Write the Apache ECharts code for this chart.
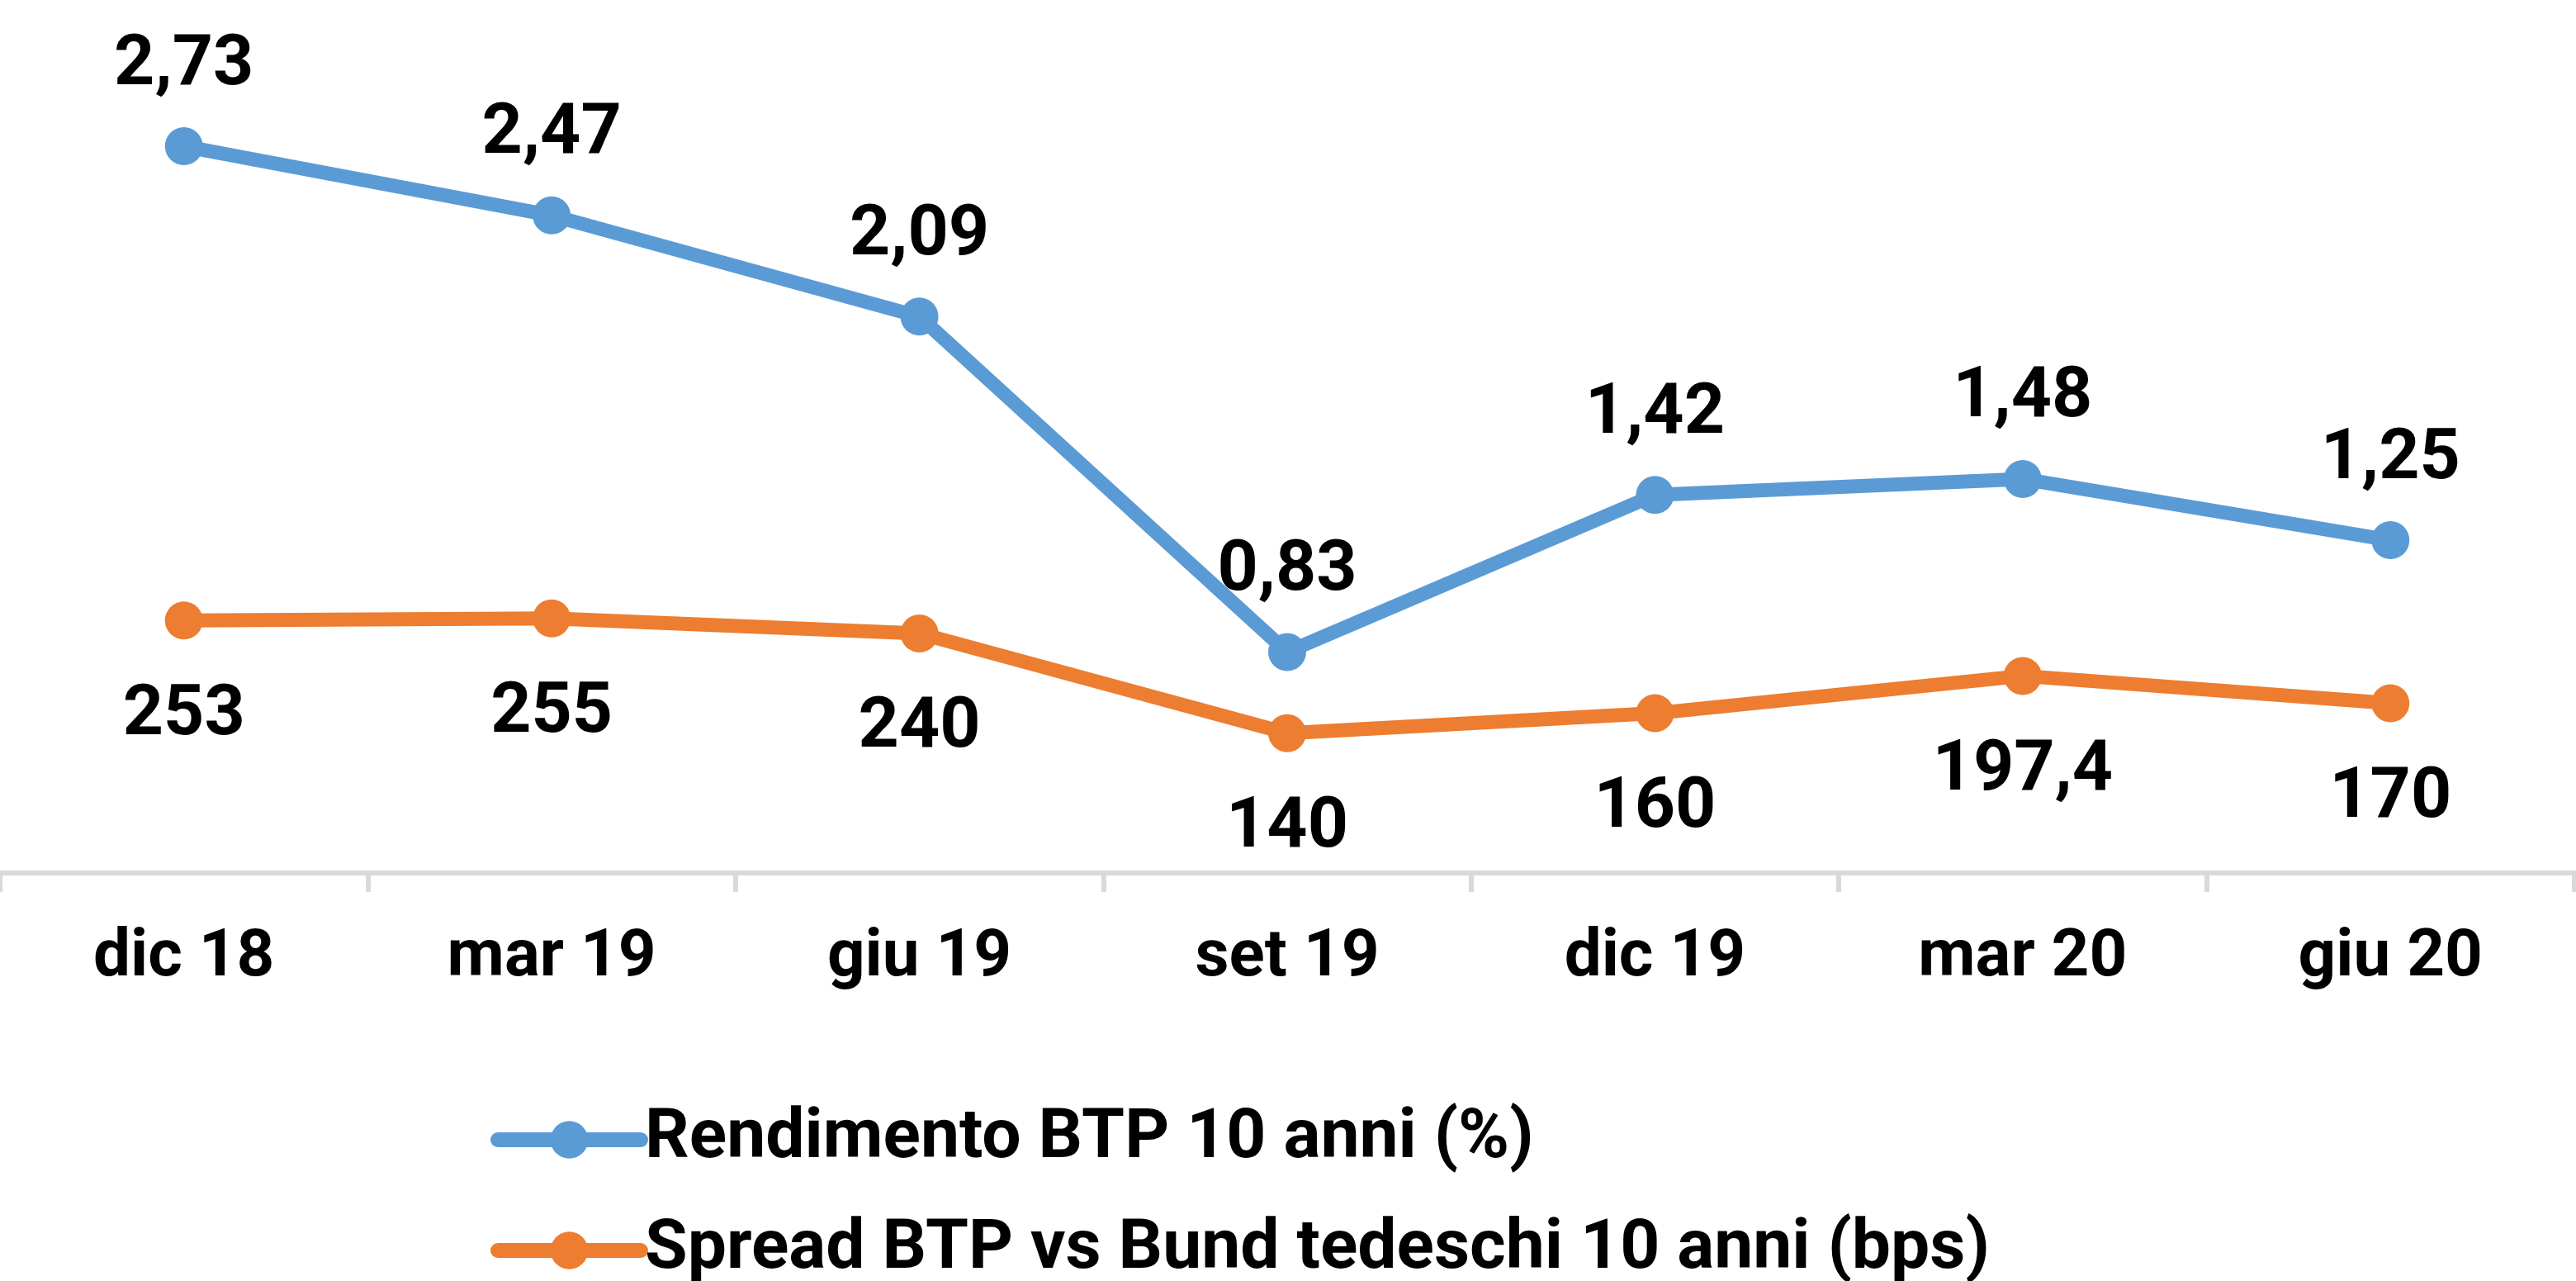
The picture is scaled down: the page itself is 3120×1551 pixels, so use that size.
<!DOCTYPE html>
<html>
<head>
<meta charset="utf-8">
<script src="https://cdn.jsdelivr.net/npm/echarts@6/dist/echarts.min.js"></script>
<style>
  html, body { margin: 0; padding: 0; background: #fff; }
  #chart { width: 3120px; height: 1551px; }
</style>
</head>
<body>
<div id="chart"></div>
<script>
// categorie (trimestri)
var categories = ["dic 18", "mar 19", "giu 19", "set 19", "dic 19", "mar 20", "giu 20"];
// rendimento BTP 10 anni (%)
var rendimento = [2.73, 2.47, 2.09, 0.83, 1.42, 1.48, 1.25];
// spread BTP vs Bund (bps)
var spread = [253, 255, 240, 140, 160, 197.4, 170];
var seriesNames = ["Rendimento BTP 10 anni (%)", "Spread BTP vs Bund tedeschi 10 anni (bps)"];

var font = "Roboto";
var blue = "#5B9BD5";
var orange = "#ED7D31";

// numeri con la virgola
function fmt(p) {
    return String(p.value).replace(".", ",");
}

// una legenda per riga, così non va a capo
function legendRow(name, top) {
    return {
        left: 594,
        top: top,
        padding: 0,
        itemWidth: 173,
        itemHeight: 57,
        lineStyle: { width: 18, cap: "round" },
        textStyle: {
            fontFamily: font,
            fontWeight: "bold",
            fontSize: 84,
            lineHeight: 80,
            color: "#000"
        },
        data: [name]
    };
}

var chart = echarts.init(document.getElementById("chart"));

var option = {
    animation: false,
    backgroundColor: "#ffffff",
    grid: { left: -4, right: 2, top: 90, bottom: 494, containLabel: false },
    legend: [
        legendRow(seriesNames[0], 1338),
        legendRow(seriesNames[1], 1472)
    ],
    xAxis: {
        type: "category",
        data: categories,
        boundaryGap: true,
        axisLine: { show: true, lineStyle: { color: "#d9d9d9", width: 6 } },
        axisTick: { show: true, length: 23, lineStyle: { color: "#d9d9d9", width: 6 } },
        axisLabel: {
            fontFamily: font,
            fontWeight: "bold",
            fontSize: 80,
            lineHeight: 80,
            color: "#000",
            margin: 64
        }
    },
    yAxis: [
        { type: "value", min: 0, max: 3, show: false, splitLine: { show: false } },
        { type: "value", min: 0, max: 800, show: false, splitLine: { show: false } }
    ],
    series: [
        {
            name: seriesNames[0],
            type: "line",
            yAxisIndex: 0,
            data: rendimento,
            symbol: "circle",
            symbolSize: 46,
            lineStyle: { color: blue, width: 17 },
            itemStyle: { color: blue },
            label: {
                show: true,
                position: "top",
                distance: 31,
                formatter: fmt,
                fontFamily: font,
                fontWeight: "bold",
                fontSize: 86,
                lineHeight: 86,
                color: "#000"
            }
        },
        {
            name: seriesNames[1],
            type: "line",
            yAxisIndex: 1,
            data: spread,
            symbol: "circle",
            symbolSize: 46,
            lineStyle: { color: orange, width: 17 },
            itemStyle: { color: orange },
            label: {
                show: true,
                position: "bottom",
                distance: 50,
                formatter: fmt,
                fontFamily: font,
                fontWeight: "bold",
                fontSize: 86,
                lineHeight: 86,
                color: "#000"
            }
        }
    ]
};

chart.setOption(option);
</script>
</body>
</html>
